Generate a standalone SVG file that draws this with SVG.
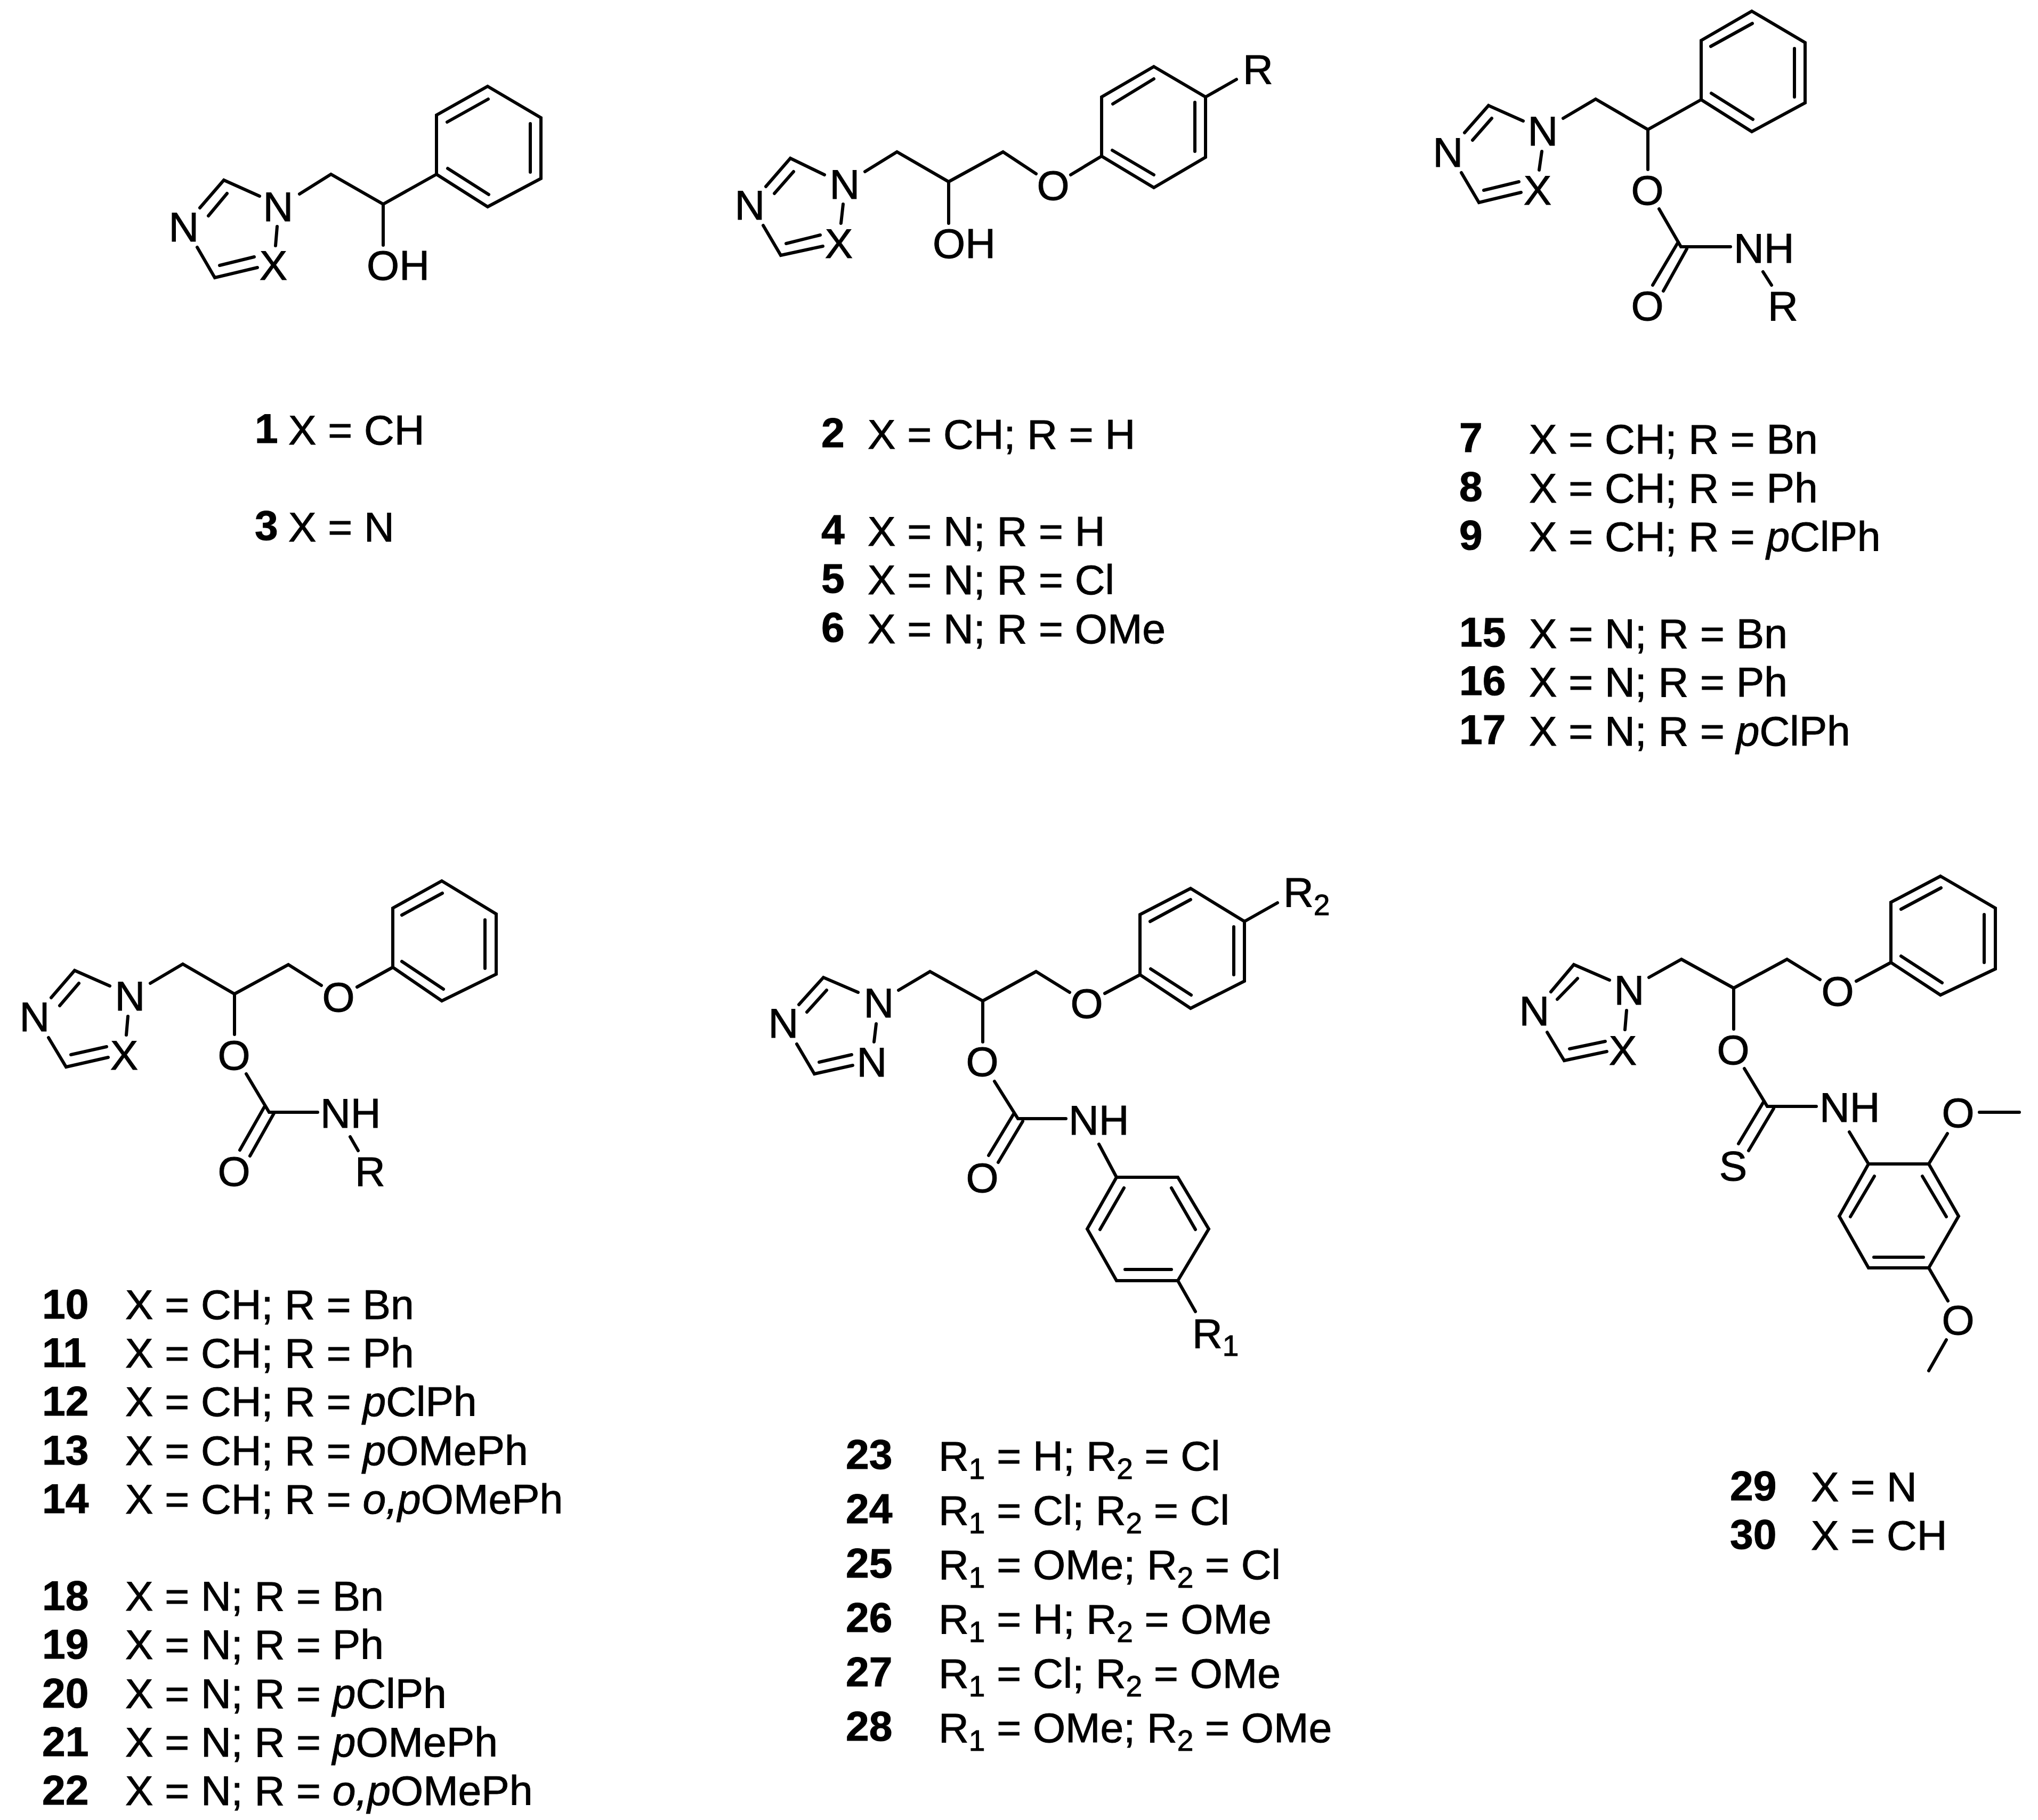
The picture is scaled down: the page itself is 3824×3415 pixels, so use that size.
<svg xmlns="http://www.w3.org/2000/svg" width="3824" height="3415" viewBox="0 0 3824 3415">
<style>
text{font-family:"Liberation Sans",Arial,sans-serif;font-size:78.6px;fill:#000;stroke:#000;stroke-width:1}
.a{text-anchor:middle}
.n{font-weight:700}
.i{font-style:italic}
.s{font-size:55px}
.b{fill:none;stroke:#000;stroke-width:6;stroke-linecap:round;stroke-linejoin:miter}
</style>
<rect width="3824" height="3415" fill="#fff"/>
<g id="compound-1-3">
<path class="b" d="M915 162L1015 221L1015 335L915 388L819 327L819 216ZM839 229L916 186M995 232L995 323M840 316L917 365M819 327L719 383L621 327L562 364M719 383L719 460M487 368L420 338L375 390M426 363L391 405M370 464L403 521L483 502M412 498L477 482M520 425L517 461"/>
<text class="a" x="522" y="415">N</text><text class="a" x="345" y="453">N</text><text class="a" x="513" y="525">X</text><text x="688" y="525">OH</text>
</g>
<g id="legend-1-3">
<text class="n" x="478" y="831">1</text><text x="541" y="834">X = CH</text>
<text class="n" x="478" y="1013">3</text><text x="541" y="1016">X = N</text>
</g>
<g id="compound-2-4-5-6">
<path class="b" d="M2165 125L2262 182L2262 295L2165 352L2067 293L2067 182ZM2088 195L2165 148M2242 192L2242 284M2087 282L2165 328M2262 182L2320 149M2067 293L2009 328M1944 326L1882 285L1780 341L1683 285L1623 322M1780 341L1780 419M1547 328L1483 297L1437 350M1489 322L1453 363M1432 423L1465 479L1544 462M1475 457L1539 441M1582 383L1578 419"/>
<text class="a" x="1976" y="375">O</text><text class="a" x="1585" y="373">N</text><text class="a" x="1407" y="412">N</text><text class="a" x="1574" y="484">X</text><text x="1750" y="484">OH</text><text x="2332" y="157">R</text>
</g>
<g id="legend-2-4-5-6">
<text class="n" x="1541" y="839">2</text><text x="1628" y="842">X = CH; R = H</text>
<text class="n" x="1541" y="1021">4</text><text x="1628" y="1024">X = N; R = H</text>
<text class="n" x="1541" y="1112">5</text><text x="1628" y="1115">X = N; R = Cl</text>
<text class="n" x="1541" y="1204">6</text><text x="1628" y="1207">X = N; R = OMe</text>
</g>
<g id="compound-7-9-15-17">
<path class="b" d="M3287 21L3387 80L3387 193L3287 247L3192 187L3192 76ZM3210 87L3288 44M3367 91L3367 182M3211 175L3289 224M3192 187L3092 243L2994 186L2933 222M3092 243L3092 318M2858 227L2793 198L2748 249M2799 222L2763 263M2742 324L2775 380L2854 361M2784 357L2850 341M2893 284L2888 319M3113 392L3154 463L3247 463M3149 454L3101 535M3165 467L3121 546M3308 510L3324 535"/>
<text class="a" x="3091" y="384">O</text><text class="a" x="2895" y="273">N</text><text class="a" x="2717" y="313">N</text><text class="a" x="2885" y="384">X</text><text x="3253" y="493">NH</text><text x="3317" y="601">R</text><text class="a" x="3091" y="601">O</text>
</g>
<g id="legend-7-9-15-17">
<text class="n" x="2738" y="848">7</text><text x="2869" y="851">X = CH; R = Bn</text>
<text class="n" x="2738" y="940">8</text><text x="2869" y="943">X = CH; R = Ph</text>
<text class="n" x="2738" y="1031">9</text><text x="2869" y="1034">X = CH; R = <tspan class="i">p</tspan>ClPh</text>
<text class="n" x="2738" y="1213">15</text><text x="2869" y="1216">X = N; R = Bn</text>
<text class="n" x="2738" y="1304">16</text><text x="2869" y="1307">X = N; R = Ph</text>
<text class="n" x="2738" y="1396">17</text><text x="2869" y="1399">X = N; R = <tspan class="i">p</tspan>ClPh</text>
</g>
<g id="compound-10-14-18-22">
<path class="b" d="M829 1653L931 1715L931 1828L829 1878L737 1815L737 1704ZM754 1717L830 1676M910 1726L910 1817M754 1804L832 1856M737 1815L670 1852M603 1849L541 1810L440 1865L343 1809L282 1845M440 1865L440 1941M206 1850L140 1821L96 1872M148 1845L112 1887M91 1947L124 2002L203 1984M133 1979L200 1964M240 1907L237 1942M462 2015L505 2087L596 2087M496 2077L450 2158M514 2089L469 2169M657 2133L672 2159"/>
<text class="a" x="635" y="1898">O</text><text class="a" x="439" y="2007">O</text><text class="a" x="244" y="1896">N</text><text class="a" x="65" y="1935">N</text><text class="a" x="233" y="2007">X</text><text x="601" y="2116">NH</text><text x="666" y="2225">R</text><text class="a" x="439" y="2225">O</text>
</g>
<g id="legend-10-14-18-22">
<text class="n" x="79" y="2474">10</text><text x="235" y="2475">X = CH; R = Bn</text>
<text class="n" x="79" y="2565">11</text><text x="235" y="2566">X = CH; R = Ph</text>
<text class="n" x="79" y="2656">12</text><text x="235" y="2657">X = CH; R = <tspan class="i">p</tspan>ClPh</text>
<text class="n" x="79" y="2748">13</text><text x="235" y="2749">X = CH; R = <tspan class="i">p</tspan>OMePh</text>
<text class="n" x="79" y="2839">14</text><text x="235" y="2840">X = CH; R = <tspan class="i">o,p</tspan>OMePh</text>
<text class="n" x="79" y="3021">18</text><text x="235" y="3022">X = N; R = Bn</text>
<text class="n" x="79" y="3112">19</text><text x="235" y="3113">X = N; R = Ph</text>
<text class="n" x="79" y="3204">20</text><text x="235" y="3205">X = N; R = <tspan class="i">p</tspan>ClPh</text>
<text class="n" x="79" y="3295">21</text><text x="235" y="3296">X = N; R = <tspan class="i">p</tspan>OMePh</text>
<text class="n" x="79" y="3386">22</text><text x="235" y="3387">X = N; R = <tspan class="i">o,p</tspan>OMePh</text>
</g>
<g id="compound-23-28">
<path class="b" d="M2234 1667L2335 1729L2335 1841L2234 1892L2139 1829L2139 1716ZM2158 1729L2234 1688M2315 1739L2315 1829M2159 1818L2235 1867M2335 1729L2397 1694M2139 1829L2073 1864M2007 1862L1944 1823L1844 1878L1745 1823L1686 1858M1844 1878L1844 1955M1610 1862L1545 1834L1499 1885M1551 1858L1514 1899M1495 1959L1528 2015L1600 1999M1537 1993L1598 1979M1644 1921L1640 1955M1866 2029L1910 2099L2000 2099M1902 2090L1855 2168M1919 2104L1873 2181M2062 2147L2095 2209L2210 2209L2268 2306L2210 2403L2095 2403L2040 2306L2095 2209M2109 2229L2064 2307M2198 2229L2243 2307M2111 2382L2198 2382M2210 2403L2243 2461"/>
<text class="a" x="2039" y="1910">O</text><text class="a" x="1843" y="2019">O</text><text class="a" x="1649" y="1909">N</text><text class="a" x="1470" y="1947">N</text><text class="a" x="1636" y="2020">N</text><text x="2005" y="2129">NH</text><text class="a" x="1843" y="2237">O</text>
<text x="2237" y="2529">R<tspan class="s" dy="15">1</tspan></text><text x="2408" y="1701">R<tspan class="s" dy="16">2</tspan></text>
</g>
<g id="legend-23-28">
<text class="n" x="1587" y="2756">23</text><text x="1761" y="2759">R<tspan class="s" dy="16">1</tspan><tspan dy="-16"> = H; R</tspan><tspan class="s" dy="16">2</tspan><tspan dy="-16"> = Cl</tspan></text>
<text class="n" x="1587" y="2858">24</text><text x="1761" y="2861">R<tspan class="s" dy="16">1</tspan><tspan dy="-16"> = Cl; R</tspan><tspan class="s" dy="16">2</tspan><tspan dy="-16"> = Cl</tspan></text>
<text class="n" x="1587" y="2960">25</text><text x="1761" y="2963">R<tspan class="s" dy="16">1</tspan><tspan dy="-16"> = OMe; R</tspan><tspan class="s" dy="16">2</tspan><tspan dy="-16"> = Cl</tspan></text>
<text class="n" x="1587" y="3062">26</text><text x="1761" y="3065">R<tspan class="s" dy="16">1</tspan><tspan dy="-16"> = H; R</tspan><tspan class="s" dy="16">2</tspan><tspan dy="-16"> = OMe</tspan></text>
<text class="n" x="1587" y="3164">27</text><text x="1761" y="3167">R<tspan class="s" dy="16">1</tspan><tspan dy="-16"> = Cl; R</tspan><tspan class="s" dy="16">2</tspan><tspan dy="-16"> = OMe</tspan></text>
<text class="n" x="1587" y="3266">28</text><text x="1761" y="3269">R<tspan class="s" dy="16">1</tspan><tspan dy="-16"> = OMe; R</tspan><tspan class="s" dy="16">2</tspan><tspan dy="-16"> = OMe</tspan></text>
</g>
<g id="compound-29-30">
<path class="b" d="M3641 1644L3744 1704L3744 1818L3641 1867L3548 1806L3548 1693ZM3567 1706L3642 1666M3723 1716L3723 1806M3567 1794L3644 1844M3548 1806L3483 1841M3415 1838L3353 1800L3253 1854L3155 1800L3094 1834M3253 1854L3253 1931M3020 1839L2953 1810L2910 1861M2960 1836L2922 1875M2903 1937L2935 1990L3015 1973M2945 1968L3012 1954M3052 1896L3049 1932M3273 2005L3316 2076L3408 2076M3310 2066L3262 2146M3328 2080L3281 2159M3470 2124L3506 2184L3619 2184L3675 2282L3619 2379L3506 2379L3451 2282L3506 2184M3517 2207L3472 2283M3607 2207L3652 2283M3516 2359L3609 2359M3619 2184L3654 2127M3714 2087L3789 2087M3619 2379L3655 2441M3652 2514L3619 2572"/>
<text class="a" x="3448" y="1887">O</text><text class="a" x="3252" y="1997">O</text><text class="a" x="3057" y="1885">N</text><text class="a" x="2879" y="1924">N</text><text class="a" x="3045" y="1998">X</text><text class="a" x="3252" y="2215">S</text><text x="3414" y="2105">NH</text><text class="a" x="3674" y="2115">O</text><text class="a" x="3674" y="2504">O</text>
</g>
<g id="legend-29-30">
<text class="n" x="3246" y="2815">29</text><text x="3398" y="2817">X = N</text>
<text class="n" x="3246" y="2906">30</text><text x="3398" y="2908">X = CH</text>
</g>
</svg>
